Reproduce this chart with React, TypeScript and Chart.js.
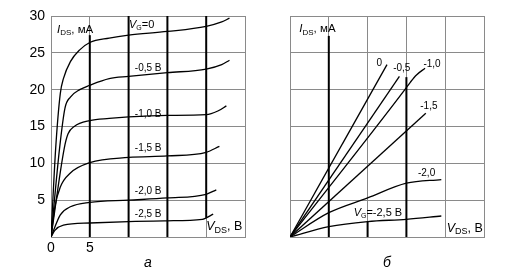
import React, { useEffect, useRef } from 'react';
import { Chart, registerables } from 'chart.js';
Chart.register(...registerables);

const FONT = 'Liberation Sans, Arial, sans-serif';

// axis ranges / ticks
const xRange = [0, 25];
const yRange = [0, 30];
const tickStep = 5;
const leftXTickLabels = ['0', '5'];
const leftYTickLabels = ['5', '10', '15', '20', '25', '30'];

// Panel a: output characteristics I_DS(V_DS)
const outVg0 = [[0, 0], [0.6, 12], [1.2, 19.5], [1.6, 21.5], [2.5, 23.8], [3.7, 25.4], [5, 26.4], [7.5, 27], [10, 27.4], [15, 27.9], [20, 28.6], [22, 29.2], [23, 29.7]];
const outVg05 = [[0, 0], [1.1, 12], [1.8, 17.5], [2.5, 19], [3.7, 20], [5, 20.6], [7.5, 21.5], [10, 21.8], [15, 22.3], [20, 22.8], [22, 23.4], [23, 24]];
const outVg10 = [[0, 0], [1.7, 12], [2.2, 14], [3, 15], [5, 15.8], [7.5, 16.1], [10, 16.3], [15, 16.5], [20, 16.6], [21.5, 17.1], [22.6, 17.8]];
const outVg15 = [[0, 0], [0.5, 4.1], [1.2, 6.8], [2.5, 8.7], [5, 10.1], [10, 10.8], [15, 11.0], [20, 11.5], [21.7, 12.3]];
const outVg20 = [[0, 0], [1.2, 3.0], [2.5, 4.1], [5, 4.7], [10, 5.0], [15, 5.3], [20, 5.8], [21.3, 6.4]];
const outVg25 = [[0, 0], [0.5, 0.9], [1.6, 1.6], [5, 1.9], [10, 2.1], [15, 2.2], [19.5, 2.4], [20.9, 3.1]];
const leftBars = [[[5, 0], [5, 27.4]], [[10, 0], [10, 30]], [[15, 0], [15, 30]], [[20, 2.6], [20, 30]]];

// Panel б: ohmic region
const ohmVg0 = [[0, 0], [12.5, 23.4]];
const ohmVg05 = [[0, 0], [14.1, 21.8]];
const ohmVg10 = [[0, 0], [14.8, 20.0], [15.5, 21.0], [16.3, 22.0], [17.4, 22.9]];
const ohmVg15 = [[0, 0], [17.5, 16.8]];
const ohmVg20 = [[0, 0], [5, 3.3], [10, 5.3], [15, 7.3], [19.5, 7.8]];
const ohmVg25 = [[0, 0], [5, 1.4], [10, 2.1], [15, 2.4], [19.5, 2.85]];
const rightBars = [[[5, 0], [5, 27.3]], [[10, 0], [10, 2.1]], [[15, 0], [15, 21.7]]];

// text labels: [main(italic), sub, rest, x, y, size, align]
type Lbl = [string, string, string, number, number, number, CanvasTextAlign];
const leftLabels: Lbl[] = [
  ['I', 'DS', ', мА', 0.77, 28.1, 11.5, 'left'],
  ['V', 'G', '=0', 10.05, 28.8, 11, 'left'],
  ['', '', '-0,5 В', 10.8, 22.9, 10, 'left'],
  ['', '', '-1,0 В', 10.8, 16.7, 10, 'left'],
  ['', '', '-1,5 В', 10.8, 12.0, 10, 'left'],
  ['', '', '-2,0 В', 10.8, 6.2, 10, 'left'],
  ['', '', '-2,5 В', 10.8, 3.06, 10, 'left'],
  ['V', 'DS', ', В', 20.0, 1.4, 12.5, 'left'],
];
const rightLabels: Lbl[] = [
  ['I', 'DS', ', мА', 1.2, 28.2, 11.5, 'left'],
  ['', '', '0', 11.5, 23.6, 10, 'center'],
  ['', '', '-0,5', 14.4, 22.9, 10, 'center'],
  ['', '', '-1,0', 18.3, 23.4, 10, 'center'],
  ['', '', '-1,5', 17.9, 17.8, 10, 'center'],
  ['', '', '-2,0', 17.6, 8.7, 10, 'center'],
  ['V', 'G', '=-2,5 В', 8.2, 3.2, 11, 'left'],
  ['V', 'DS', ', В', 20.2, 1.2, 12.5, 'left'],
];
const captions = ['а', 'б'];

const toXY = (a: number[][]) => a.map(([x, y]) => ({ x, y }));

function drawRich(ctx: CanvasRenderingContext2D, l: Lbl, px: number, py: number) {
  const [main, sub, rest, , , size, align] = l;
  const fMain = `italic ${size}px ${FONT}`;
  const fSub = `${Math.round(size * 0.68)}px ${FONT}`;
  const fRest = `${size}px ${FONT}`;
  ctx.font = fMain; const w1 = main ? ctx.measureText(main).width : 0;
  ctx.font = fSub; const w2 = sub ? ctx.measureText(sub).width : 0;
  ctx.font = fRest; const w3 = ctx.measureText(rest).width;
  const total = w1 + w2 + w3;
  let x = align === 'center' ? px - total / 2 : px;
  ctx.textAlign = 'left';
  ctx.textBaseline = 'middle';
  ctx.fillStyle = '#000';
  if (main) { ctx.font = fMain; ctx.fillText(main, x, py); x += w1; }
  if (sub) { ctx.font = fSub; ctx.fillText(sub, x, py + size * 0.28); x += w2; }
  ctx.font = fRest; ctx.fillText(rest, x, py);
}

function makeChart(canvas: HTMLCanvasElement, curves: number[][][], bars: number[][][], labels: Lbl[], caption: string, left: boolean, padRight: number, yAxisW: number) {
  const datasets: any[] = [];
  curves.forEach((c) => datasets.push({
    data: toXY(c), borderColor: '#000', borderWidth: 1.3, pointRadius: 0,
    cubicInterpolationMode: c.length > 2 ? 'monotone' : 'default', tension: c.length > 2 ? 0.4 : 0, fill: false,
  }));
  bars.forEach((b) => datasets.push({
    data: toXY(b), borderColor: '#000', borderWidth: 2, pointRadius: 0, tension: 0, fill: false,
  }));
  const textPlugin = {
    id: 'texts',
    afterDraw(chart: any) {
      const ctx = chart.ctx as CanvasRenderingContext2D;
      const xs = chart.scales.x, ys = chart.scales.y;
      ctx.save();
      labels.forEach((l) => drawRich(ctx, l, xs.getPixelForValue(l[3]), ys.getPixelForValue(l[4])));
      ctx.font = `italic 14px ${FONT}`;
      ctx.textAlign = 'center';
      ctx.textBaseline = 'middle';
      ctx.fillStyle = '#000';
      const ca = chart.chartArea;
      ctx.fillText(caption, (ca.left + ca.right) / 2, ca.bottom + 26);
      ctx.restore();
    },
  };
  return new Chart(canvas, {
    type: 'line',
    data: { datasets },
    plugins: [textPlugin],
    options: {
      animation: false,
      responsive: false,
      parsing: false as any,
      layout: { padding: { top: 16, right: padRight, left: 0, bottom: 0 } },
      plugins: { legend: { display: false }, tooltip: { enabled: false } },
      scales: {
        x: {
          type: 'linear', min: xRange[0], max: xRange[1],
          ticks: {
            display: left, stepSize: tickStep, autoSkip: false, maxRotation: 0, padding: 3, color: '#000',
            font: { family: FONT, size: 14 },
            callback: (v: any) => (leftXTickLabels.includes(String(v)) ? String(v) : ''),
          },
          grid: { color: '#8a8a8a', lineWidth: 1, drawTicks: false },
          border: { color: '#8a8a8a' },
          afterFit: (s: any) => { s.height = 40; },
        },
        y: {
          type: 'linear', min: yRange[0], max: yRange[1],
          ticks: {
            display: left, stepSize: tickStep, autoSkip: false, padding: 6, color: '#000',
            font: { family: FONT, size: 14 },
            callback: (v: any) => (leftYTickLabels.includes(String(v)) ? String(v) : ''),
          },
          grid: { color: '#8a8a8a', lineWidth: 1, drawTicks: false },
          border: { color: '#8a8a8a' },
          afterFit: (s: any) => { s.width = yAxisW; },
        },
      },
    } as any,
  });
}

export default function App() {
  const r1 = useRef<HTMLCanvasElement>(null);
  const r2 = useRef<HTMLCanvasElement>(null);
  useEffect(() => {
    document.body.style.margin = '0';
    const c1 = makeChart(r1.current!, [outVg0, outVg05, outVg10, outVg15, outVg20, outVg25], leftBars, leftLabels, captions[0], true, 15, 51);
    const c2 = makeChart(r2.current!, [ohmVg0, ohmVg05, ohmVg10, ohmVg15, ohmVg20, ohmVg25], rightBars, rightLabels, captions[1], false, 35, 30);
    return () => { c1.destroy(); c2.destroy(); };
  }, []);
  return (
    <div style={{ position: 'relative', width: 519, height: 277, background: '#fff' }}>
      <canvas ref={r1} width={260} height={277} style={{ position: 'absolute', left: 0, top: 0 }} />
      <canvas ref={r2} width={259} height={277} style={{ position: 'absolute', left: 260, top: 0 }} />
    </div>
  );
}
